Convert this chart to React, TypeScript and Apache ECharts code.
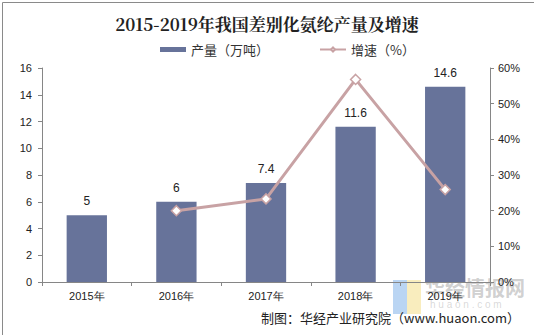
import React, { useEffect, useRef } from "react";
import * as echarts from "echarts";

const categories = ["2015年", "2016年", "2017年", "2018年", "2019年"];
const output = [5, 6, 7.4, 11.6, 14.6];
const growth: (number | null)[] = [null, 20.0, 23.3, 56.8, 25.9];

export default function App() {
  const ref = useRef<HTMLDivElement>(null);
  useEffect(() => {
    if (!ref.current) return;
    const chart = echarts.init(ref.current, null, { renderer: "svg" });
    const axisColor = "#868686";
    chart.setOption({
      animation: false,
      backgroundColor: "#ffffff",
      title: {
        text: "2015-2019年我国差别化氨纶产量及增速",
        left: "center",
        top: 10,
        textStyle: {
          fontFamily: "'Noto Serif CJK SC', 'Noto Sans CJK SC', serif",
          fontSize: 17,
          fontWeight: "bold",
          color: "#222",
        },
      },
      legend: {
        top: 38,
        left: 155,
        itemGap: 50,
        itemWidth: 26,
        itemHeight: 5,
        textStyle: { fontFamily: "'Noto Sans CJK SC', sans-serif", fontSize: 13, color: "#333" },
        data: [
          { name: "产量（万吨）", icon: "rect" },
          { name: "增速（%）" },
        ],
      },
      grid: { left: 42, right: 44, top: 68, bottom: 53, containLabel: false },
      xAxis: {
        type: "category",
        data: categories,
        axisLine: { lineStyle: { color: axisColor } },
        axisTick: { show: true, length: 4, lineStyle: { color: axisColor } },
        axisLabel: { color: "#222", fontSize: 11, fontFamily: "'Liberation Sans', Arial, sans-serif", margin: 8 },
      },
      yAxis: [
        {
          type: "value",
          min: 0,
          max: 16,
          interval: 2,
          axisLine: { show: true, lineStyle: { color: axisColor } },
          axisTick: { show: true, length: 4, lineStyle: { color: axisColor } },
          splitLine: { show: false },
          axisLabel: { color: "#222", fontSize: 11, fontFamily: "'Liberation Sans', Arial, sans-serif", margin: 10 },
        },
        {
          type: "value",
          min: 0,
          max: 60,
          interval: 10,
          position: "right",
          axisLine: { show: true, lineStyle: { color: axisColor } },
          axisTick: { show: true, length: 4, lineStyle: { color: axisColor } },
          splitLine: { show: false },
          axisLabel: {
            color: "#222",
            fontSize: 11,
            fontFamily: "'Liberation Sans', Arial, sans-serif",
            formatter: "{value}%",
            margin: 8,
          },
        },
      ],
      series: [
        {
          name: "产量（万吨）",
          type: "bar",
          data: output,
          barWidth: "45%",
          itemStyle: { color: "#67739A" },
          label: {
            show: true,
            position: "top",
            distance: 8,
            color: "#222",
            fontSize: 12,
            fontFamily: "'Liberation Sans', Arial, sans-serif",
          },
        },
        {
          name: "增速（%）",
          type: "line",
          yAxisIndex: 1,
          data: growth,
          symbol: "diamond",
          symbolSize: 10,
          lineStyle: { color: "#C8A2A4", width: 3 },
          itemStyle: { color: "#ffffff", borderColor: "#C8A2A4", borderWidth: 1.5 },
          z: 5,
        },
      ],
      graphic: [
        {
          type: "rect",
          left: 0,
          top: 0,
          shape: { width: 533, height: 334 },
          style: { fill: "none", stroke: "#8a8a8a", lineWidth: 1 },
          silent: true,
        },
        {
          type: "rect",
          left: 393,
          top: 280,
          shape: { width: 14, height: 34 },
          style: { fill: "#9cc3ee", opacity: 0.7 },
          z: 0,
        },
        {
          type: "rect",
          left: 407,
          top: 280,
          shape: { width: 14, height: 34 },
          style: { fill: "#f6e6a2", opacity: 0.7 },
          z: 0,
        },
        {
          type: "text",
          left: 425,
          top: 277,
          style: {
            text: "华经情报网",
            fill: "rgba(150,150,150,0.45)",
            fontSize: 20,
            fontWeight: "bold",
            fontFamily: "'Noto Sans CJK SC', sans-serif",
          },
          z: 0,
        },
        {
          type: "text",
          left: 430,
          top: 299,
          style: {
            text: "h u a o n . c o m",
            fill: "rgba(170,170,170,0.45)",
            fontSize: 10,
            fontFamily: "'Liberation Sans', Arial, sans-serif",
          },
          z: 0,
        },
        {
          type: "text",
          right: 14,
          top: 311,
          style: {
            text: "制图：华经产业研究院（www.huaon.com）",
            fill: "#222",
            fontSize: 13,
            fontFamily: "'Noto Sans CJK SC', sans-serif",
          },
          z: 10,
        },
      ],
    });
    return () => chart.dispose();
  }, []);
  return (
    <div
      ref={ref}
      style={{ position: "absolute", left: 0, top: 0, width: 534, height: 335 }}
    />
  );
}
